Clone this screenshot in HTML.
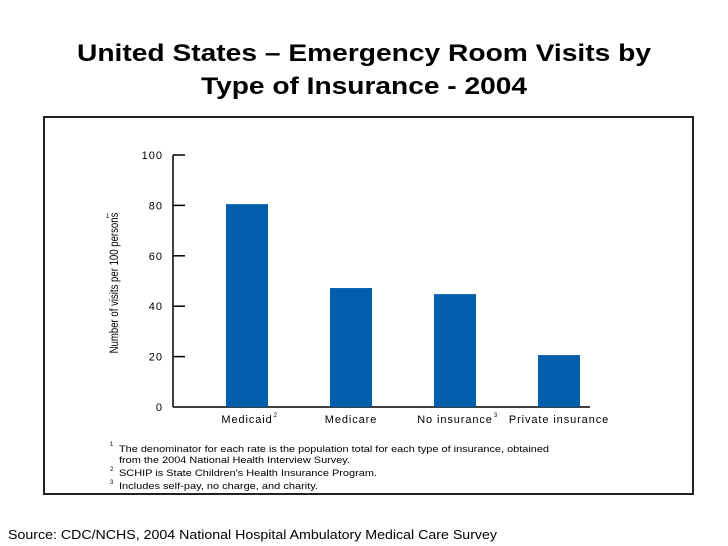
<!DOCTYPE html>
<html><head><meta charset="utf-8"><style>
body{margin:0;background:#fff;font-family:"Liberation Sans",sans-serif}
svg{display:block}
</style></head><body>
<svg width="728" height="546">
<text x="77" y="61" textLength="574" lengthAdjust="spacingAndGlyphs" font-size="24" font-weight="bold" fill="#000">United States – Emergency Room Visits by</text>
<text x="201" y="94" textLength="326" lengthAdjust="spacingAndGlyphs" font-size="24" font-weight="bold" fill="#000">Type of Insurance - 2004</text>
<rect x="44" y="117" width="649" height="377" fill="none" stroke="#222" stroke-width="2"/>
<g id="chart"></g>
<text transform="translate(118,283) rotate(-90) scale(0.8,1)" text-anchor="middle" font-size="12" fill="#000">Number of visits per 100 persons</text>
<text x="106" y="218" font-size="6">1</text>
<g font-size="9.5" fill="#000" lengthAdjust="spacingAndGlyphs">
<text x="110" y="446" font-size="6">1</text>
<text x="119" y="452" textLength="430" lengthAdjust="spacingAndGlyphs">The denominator for each rate is the population total for each type of insurance, obtained</text>
<text x="119" y="463" textLength="231" lengthAdjust="spacingAndGlyphs">from the 2004 National Health Interview Survey.</text>
<text x="110" y="471" font-size="6">2</text>
<text x="119" y="476" textLength="258" lengthAdjust="spacingAndGlyphs">SCHIP is State Children's Health Insurance Program.</text>
<text x="110" y="484" font-size="6">3</text>
<text x="119" y="489" textLength="199" lengthAdjust="spacingAndGlyphs">Includes self-pay, no charge, and charity.</text>
</g>
<text x="8" y="539" textLength="489" lengthAdjust="spacingAndGlyphs" font-size="13" fill="#000">Source: CDC/NCHS, 2004 National Hospital Ambulatory Medical Care Survey</text>
</svg>
<script>
const categories=["Medicaid","Medicare","No insurance","Private insurance"];
const catSup=["2","","3",""];
const values=[80.5,47.2,44.8,20.6];
const yTicks=[0,20,40,60,80,100];
const NS="http://www.w3.org/2000/svg";
const g=document.getElementById('chart');
const y0=407,y100=155,ax=173;
const y=v=>y0-(y0-y100)*v/100;
const xc=i=>247+i*104;
function mk(t,a){const e=document.createElementNS(NS,t);for(const k in a)e.setAttribute(k,a[k]);g.appendChild(e);return e;}
const ya=mk('line',{x1:ax,y1:y(100),x2:ax,y2:y0,stroke:'#000','stroke-width':1.5});


const xa=mk('line',{x1:ax,y1:y0,x2:590,y2:y0,stroke:'#000','stroke-width':1.5});


yTicks.forEach(v=>{
 if(v>0){const t=mk('line',{x1:ax,y1:y(v),x2:185,y2:y(v),stroke:'#000','stroke-width':1.5});
 
 }
 const l=mk('text',{x:163,y:y(v)+4,'text-anchor':'end','font-size':11,'letter-spacing':1});
 l.textContent=v;
 
 
});
values.forEach((v,i)=>{
 const b=mk('rect',{x:xc(i)-21,y:y(v),width:42,height:y0-y(v),fill:'#005eac'});
 
 
 const l=mk('text',{x:xc(i),y:423,'text-anchor':'middle','font-size':11,'letter-spacing':0.9});
 l.textContent=categories[i];
 
 
 if(catSup[i]){const bb=l.getBBox();const s=mk('text',{x:bb.x+bb.width+1,y:417,'font-size':6});s.textContent=catSup[i];
 
 }
});
</script>
</body></html>
